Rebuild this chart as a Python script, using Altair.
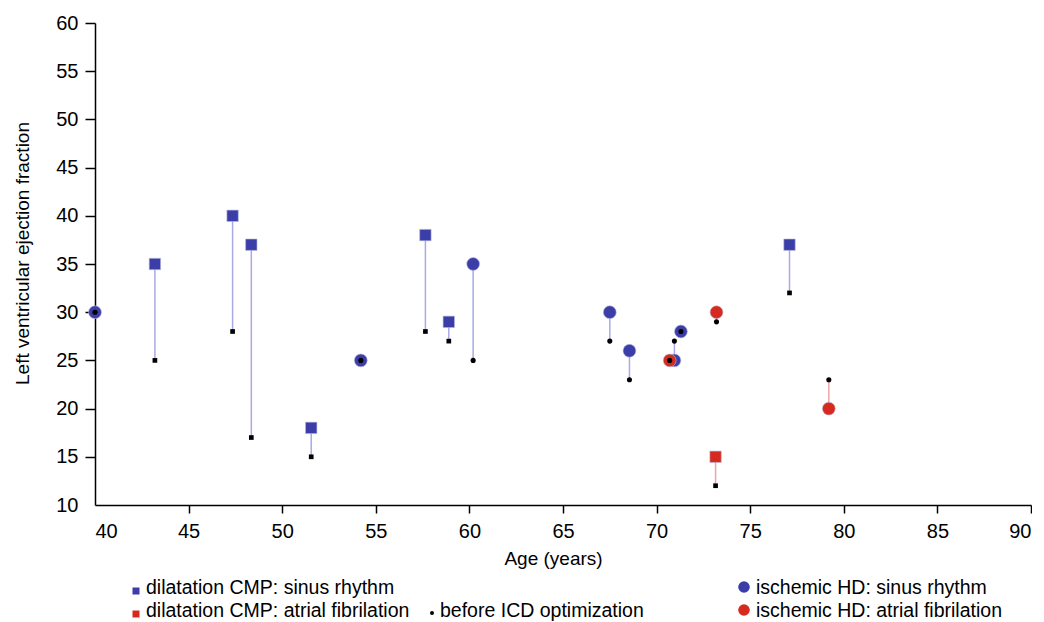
import altair as alt
import pandas as pd

# Data
ages   = [40.0, 43.2, 47.35, 48.35, 51.55, 54.2, 57.65, 58.9, 60.2, 67.5, 68.55, 70.95, 70.7, 71.3, 73.2, 73.15, 77.1, 79.2]
after  = [30, 35, 40, 37, 18, 25, 38, 29, 35, 30, 26, 25, 25, 28, 30, 15, 37, 20]
before = [30, 25, 28, 17, 15, 25, 28, 27, 25, 27, 23, 27, 25, 28, 29, 12, 32, 23]
group  = ["isch", "dil", "dil", "dil", "dil", "isch", "dil", "dil", "isch", "isch", "isch", "isch", "isch", "isch", "isch", "dil", "dil", "isch"]
rhythm = ["sinus", "sinus", "sinus", "sinus", "sinus", "sinus", "sinus", "sinus", "sinus", "sinus", "sinus", "sinus", "af", "sinus", "af", "af", "sinus", "af"]

legend_labels = ["dilatation CMP: sinus rhythm", "dilatation CMP: atrial fibrilation",
                 "before ICD optimization",
                 "ischemic HD: sinus rhythm", "ischemic HD: atrial fibrilation"]

MARK_COL = {"sinus": "#3b3ea8", "af": "#d62a1f"}
LINE_COL = {"sinus": "#a9a9e8", "af": "#f2a3a3"}
SHAPE = {"dil": "square", "isch": "circle"}
SIZE_AFTER = {"dil": 130, "isch": 165}
SIZE_BEFORE = {"dil": 22, "isch": 26}

df = pd.DataFrame({"age": ages, "after": after, "before": before,
                   "group": group, "rhythm": rhythm})
df["mcol"] = df["rhythm"].map(MARK_COL)
df["lcol"] = df["rhythm"].map(LINE_COL)
df["shp"] = df["group"].map(SHAPE)
df["sa"] = df["group"].map(SIZE_AFTER)
df["sb"] = df["group"].map(SIZE_BEFORE)

FONT = "Liberation Sans"
W, H = 936, 482

x_enc = alt.X("age:Q", scale=alt.Scale(domain=[40, 90], nice=False),
              axis=alt.Axis(values=list(range(40, 91, 5)), title="Age (years)",
                            tickSize=8, labelPadding=8, titlePadding=8, titleX=458,
                            tickColor=alt.condition("datum.value == 40", alt.value("transparent"), alt.value("black"))))
y_axis = alt.Axis(values=list(range(10, 61, 5)), title="Left ventricular ejection fraction",
                  tickSize=10, labelPadding=7, titlePadding=23, titleY=230,
                  tickColor=alt.condition("datum.value == 10", alt.value("transparent"), alt.value("black")))
y_scale = alt.Scale(domain=[10, 60], nice=False)

base = alt.Chart(df)

rules = base.mark_rule(strokeWidth=1.5).encode(
    x=x_enc,
    y=alt.Y("after:Q", scale=y_scale, axis=y_axis),
    y2="before:Q",
    color=alt.Color("lcol:N", scale=None),
)

after_pts = base.mark_point(filled=True, opacity=1, stroke="#b8b8d8", strokeWidth=0.6).encode(
    x="age:Q",
    y="after:Q",
    color=alt.Color("mcol:N", scale=None),
    shape=alt.Shape("shp:N", scale=None),
    size=alt.Size("sa:Q", scale=None),
)

before_pts = base.mark_point(filled=True, opacity=1, color="black").encode(
    x="age:Q",
    y="before:Q",
    shape=alt.Shape("shp:N", scale=None),
    size=alt.Size("sb:Q", scale=None),
)

# Custom legend below the plot (pixel layout relative to plot origin)
leg = pd.DataFrame({
    "label": legend_labels,
    "mx": [41, 41, 337, 649, 649],
    "my": [568, 591, 590, 564, 587],
    "tx": [51, 51, 345, 661, 661],
    "ty": [571, 594, 594, 571, 594],
    "shape": ["square", "square", "circle", "circle", "circle"],
    "col": ["#3b3ea8", "#d62a1f", "black", "#3b3ea8", "#d62a1f"],
    "sz": [49, 49, 16, 135, 135],
})
leg_marks = alt.Chart(leg).mark_point(filled=True, opacity=1).encode(
    x=alt.X("mx:Q", scale=None), y=alt.Y("my:Q", scale=None),
    shape=alt.Shape("shape:N", scale=None),
    color=alt.Color("col:N", scale=None),
    size=alt.Size("sz:Q", scale=None),
)
leg_text = alt.Chart(leg).mark_text(align="left", baseline="alphabetic", font=FONT, fontSize=19.5, color="black").encode(
    x=alt.X("tx:Q", scale=None), y=alt.Y("ty:Q", scale=None), text="label:N",
)

chart = alt.layer(rules, after_pts, before_pts, leg_marks, leg_text).properties(
    width=W, height=H, padding={"left": 5, "top": 5, "right": 0, "bottom": 0}
).configure_view(stroke=None).configure_axis(
    domainColor="black", domainWidth=1.5, tickWidth=1.5, grid=False,
    labelFont=FONT, titleFont=FONT, labelFontSize=20, titleFontSize=19,
    labelColor="black", titleColor="black", titleFontWeight="normal",
)

chart.save("out.html", embed_options={"renderer": "svg", "actions": False})
